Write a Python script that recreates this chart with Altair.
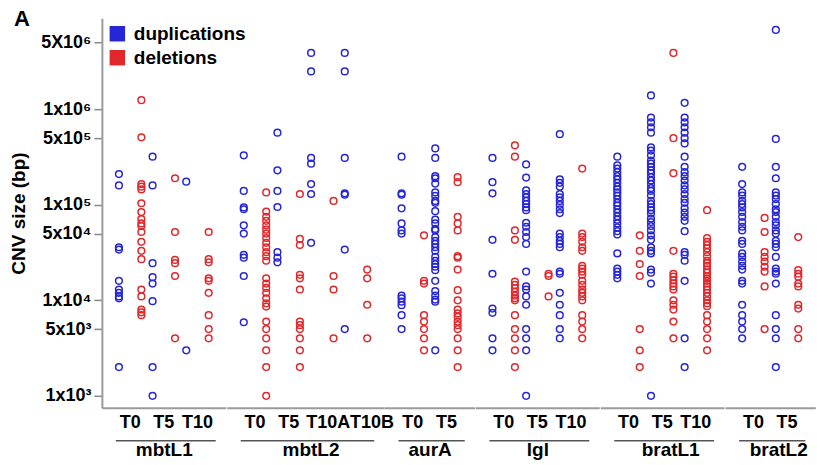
import altair as alt
import pandas as pd

FONT = "Liberation Sans"

genes = ["mbtL1", "mbtL2", "aurA", "lgl", "bratL1", "bratL2"]
timepoints = {
    "mbtL1": ["T0", "T5", "T10"],
    "mbtL2": ["T0", "T5", "T10A", "T10B"],
    "aurA": ["T0", "T5"],
    "lgl": ["T0", "T5", "T10"],
    "bratL1": ["T0", "T5", "T10"],
    "bratL2": ["T0", "T5"],
}
types = ["duplications", "deletions"]
colors = ["#2626d9", "#e2272a"]

# CNV sizes (bp)
mbtL1_T0_dup = [2.1e5, 1.6e5, 3.6e4, 3.4e4, 1.6e4, 1.3e4, 1.2e4, 1.1e4, 1.05e4, 2e3]
mbtL1_T0_del = [1.25e6, 5.1e5, 1.65e5, 1.55e5, 1.45e5, 1.04e5, 8.4e4, 7.1e4, 6.4e4, 6e4,
                5.2e4, 4.1e4, 3.3e4, 2.7e4, 1.3e4, 1.1e4, 8e3, 7.5e3, 7e3]
mbtL1_T5_dup = [3.2e5, 1.6e5, 2.45e4, 1.75e4, 1.5e4, 9.8e3, 2e3, 1e3]
mbtL1_T5_del = [1.9e5, 5.2e4, 2.65e4, 2.45e4, 1.8e4, 4e3]
mbtL1_T10_dup = [1.75e5, 3e3]
mbtL1_T10_del = [5.2e4, 2.7e4, 2.5e4, 1.7e4, 1.6e4, 1.2e4, 7e3, 5e3, 4e3]

mbtL2_T0_dup = [3.3e5, 1.4e5, 9.4e4, 9e4, 6.1e4, 5e4, 3e4, 2.8e4, 1.8e4, 5.9e3]
mbtL2_T0_del = [1.35e5, 8.5e4, 7.5e4, 6.8e4, 6.1e4, 5.5e4, 5e4, 4.5e4, 4e4, 3.6e4, 3.2e4,
                2.9e4, 2.6e4, 1.7e4, 1.5e4, 1.35e4, 1.2e4, 1.05e4, 9.3e3, 8.6e3, 6e3, 5e3,
                4e3, 3e3, 2e3, 1e3]
mbtL2_T5_dup = [5.7e5, 2.3e5, 1.4e5, 9.5e4, 3.2e4, 2.8e4, 2.5e4]
mbtL2_T5_del = [1.3e5, 4.4e4, 3.8e4, 1.85e4, 1.7e4, 1.3e4, 6e3, 5.5e3, 5e3, 4e3, 3e3, 2e3]
mbtL2_T10A_dup = [3.9e6, 2.5e6, 3.1e5, 2.7e5, 1.65e5, 1.3e5, 4e4]
mbtL2_T10A_del = [1.1e5, 1.8e4, 1.3e4, 4e3]
mbtL2_T10B_dup = [3.9e6, 2.5e6, 3.1e5, 1.32e5, 1.28e5, 3.4e4, 5e3]
mbtL2_T10B_del = [2.1e4, 1.7e4, 9e3, 4e3]

aurA_T0_dup = [3.2e5, 1.32e5, 1.28e5, 9.2e4, 6.4e4, 5.4e4, 5e4, 1.12e4, 1.05e4, 9.7e3,
               8.9e3, 7e3, 5e3]
aurA_T0_del = [4.8e4, 1.6e4, 1.5e4, 7e3, 6e3, 5e3, 4e3, 3e3]
aurA_T5_dup = [3.9e5, 3.1e5, 2e5, 1.9e5, 1.67e5, 1.35e5, 1.24e5, 1.1e5, 1.05e5, 8.6e4,
               7e4, 6.4e4, 5.6e4, 5.4e4, 4.6e4, 4.2e4, 3.9e4, 3.6e4, 3.3e4, 2.85e4, 2.6e4,
               2.4e4, 2.25e4, 2.07e4, 1.6e4, 1.25e4, 1.12e4, 1.02e4, 9.7e3, 3e3]
aurA_T5_del = [1.95e5, 1.73e5, 7.5e4, 6.4e4, 5.4e4, 2.9e4, 2.8e4, 2.1e4, 1.28e4, 1e4,
               8e3, 7.3e3, 6.7e3, 6e3, 5.5e3, 5e3, 4e3, 3e3, 2e3]

lgl_T0_dup = [3.1e5, 1.73e5, 1.32e5, 4.3e4, 1.9e4, 8.2e3, 7.4e3, 4e3, 3e3]
lgl_T0_del = [4.2e5, 3.2e5, 5.4e4, 4.3e4, 1.57e4, 1.45e4, 1.34e4, 1.23e4, 1.12e4, 1.05e4,
              1e4, 7e3, 5e3, 4e3, 3e3, 2e3]
lgl_T5_dup = [2.65e5, 1.93e5, 1.42e5, 1.3e5, 1.2e5, 1.1e5, 1.02e5, 9.4e4, 8.8e4, 6.5e4,
              5.9e4, 5.2e4, 4.6e4, 3.9e4, 2e4, 1.4e4, 1.3e4, 1.1e4, 9e3, 5e3, 4e3, 3e3, 1e3]
lgl_T5_del = [1.9e4, 1.8e4, 1.1e4]
lgl_T10_dup = [5.5e5, 1.85e5, 1.7e5, 1.55e5, 1.3e5, 1.2e5, 1.1e5, 1e5, 9e4, 8.2e4, 5e4,
               4.6e4, 4.2e4, 3.9e4, 3.6e4, 2e4, 1.9e4, 1.2e4, 9e3, 7e3, 5e3, 4e3]
lgl_T10_del = [2.4e5, 5e4, 4.6e4, 4.1e4, 3.6e4, 3.3e4, 2.3e4, 2.15e4, 2e4, 1.85e4, 1.6e4,
               1.45e4, 1.3e4, 1.2e4, 1.1e4, 1e4, 7e3, 6e3, 5e3, 4e3]

bratL1_T0_dup = [3.2e5, 2.6e5, 2.4e5, 2.2e5, 2e5, 1.85e5, 1.7e5, 1.55e5, 1.45e5, 1.35e5,
                 1.25e5, 1.15e5, 1.05e5, 9.8e4, 9e4, 8.3e4, 7.6e4, 7e4, 6.4e4, 5.8e4,
                 5.3e4, 4.9e4, 3.1e4, 2.15e4, 2e4, 1.85e4, 1.7e4]
bratL1_T0_del = [4.8e4, 3.3e4, 2.4e4, 1.8e4, 5e3, 3e3, 2e3]
bratL1_T5_dup = [1.4e6, 8.2e5, 7.3e5, 6.5e5, 5.7e5, 4e5, 3.7e5, 3.3e5, 2.9e5, 2.7e5, 2.5e5,
                 2.3e5, 2.15e5, 1.95e5, 1.8e5, 1.65e5, 1.5e5, 1.4e5, 1.25e5, 1.1e5, 1.02e5,
                 9.4e4, 8.8e4, 8.1e4, 7.2e4, 6.6e4, 6e4, 5.4e4, 4.8e4, 4.3e4, 3.6e4, 3.3e4,
                 3.1e4, 2.1e4, 1.95e4, 1.5e4, 1e3]
bratL1_T5_del = [3.9e6, 5e5, 2.15e5, 3.3e4, 1.9e4, 1.77e4, 1.62e4, 1.5e4, 1.4e4, 1.3e4,
                 1e4, 9e3, 8e3, 6e3, 4e3]
bratL1_T10_dup = [1.17e6, 8.2e5, 7.3e5, 6.5e5, 5.7e5, 5e5, 4.4e5, 3.2e5, 2.5e5, 2.2e5,
                  2e5, 1.8e5, 1.6e5, 1.45e5, 1.3e5, 1.15e5, 1.05e5, 9.2e4, 8.3e4, 7.5e4,
                  6.8e4, 5.3e4, 3.2e4, 3e4, 2.6e4, 1.6e4, 4e3, 2e3]
bratL1_T10_del = [8.8e4, 4.5e4, 4.1e4, 3.8e4, 3.5e4, 3.2e4, 2.9e4, 2.6e4, 2.45e4, 2.3e4,
                  2.1e4, 1.95e4, 1.8e4, 1.7e4, 1.6e4, 1.5e4, 1.4e4, 1.3e4, 1.2e4, 1.1e4,
                  1e4, 9.3e3, 8.7e3, 7e3, 6e3, 5e3, 4e3, 3e3]

bratL2_T0_dup = [2.5e5, 1.65e5, 1.35e5, 1.25e5, 1.1e5, 1.02e5, 9.4e4, 8.4e4, 7.5e4, 6.6e4,
                 5.9e4, 5.4e4, 4.2e4, 3.9e4, 3.1e4, 2.85e4, 2.55e4, 2.3e4, 2.1e4, 1.6e4,
                 1.5e4, 9e3, 7e3, 6e3, 5e3, 4e3]
bratL2_T0_del = [7.3e4, 5.2e4, 3.2e4, 2.85e4, 2.55e4, 2.25e4, 2e4, 1.4e4, 5e3]
bratL2_T5_dup = [6.8e6, 4.9e5, 2.5e5, 1.9e5, 1.35e5, 1.25e5, 1.15e5, 1.02e5, 9e4, 8.4e4,
                 7.5e4, 6.6e4, 6.1e4, 5.4e4, 5e4, 4.2e4, 3.9e4, 3.6e4, 2.85e4, 2.15e4, 2e4,
                 1.9e4, 1.5e4, 7e3, 5e3, 4e3, 2e3]
bratL2_T5_del = [4.6e4, 2.07e4, 1.9e4, 1.77e4, 1.5e4, 1.4e4, 9e3, 8.2e3, 5e3, 4e3]

yticks = [1e3, 5e3, 1e4, 5e4, 1e5, 5e5, 1e6, 5e6]
ylabels = ["1x10³", "5x10³", "1x10⁴", "5x10⁴", "1x10⁵", "5x10⁵", "1x10⁶", "5X10⁶"]

series = globals()
rows = []
for g in genes:
    for t in timepoints[g]:
        for ty, suffix in zip(types, ["dup", "del"]):
            for v in series[f"{g}_{t}_{suffix}"]:
                rows.append({"gene": g, "time": t, "type": ty, "size": v})
df = pd.DataFrame(rows)

label_expr = "''"
for v, lab in zip(yticks, ylabels):
    label_expr = f"abs(datum.value - {v}) < {v * 0.01} ? '{lab}' : ({label_expr})"

STEP = 33.7
PO = 0.34
H = 390
title_shift = {"mbtL2": 5, "bratL1": 8, "bratL2": 8}
color_scale = alt.Scale(domain=types, range=colors)

panels = []
for i, g in enumerate(genes):
    tps = timepoints[g]
    w = STEP * (len(tps) + 2 * PO)
    sub = df[df.gene == g]
    first = i == 0
    yaxis = alt.Axis(
        values=yticks, labelExpr=label_expr, title="CNV size (bp)",
        titleFontSize=19, titleFont=FONT, titleFontWeight="bold", titleColor="black",
        titlePadding=12, labelFontSize=18, labelFont=FONT, labelFontWeight="bold",
        labelColor="black", labelPadding=3, tickSize=8, tickWidth=1.5, tickColor="#888888",
        domainColor="#9a9a9a", domainWidth=2, grid=False,
    ) if first else None
    axis_kw = dict(
        title=g, titleFontSize=19, titleFont=FONT, titleFontWeight="bold", titleColor="black",
        titlePadding=9, titleX=w / 2 + title_shift.get(g, 0),
        labelFontSize=18, labelFont=FONT, labelFontWeight="bold", labelColor="black",
        labelAngle=0, labelPadding=6, ticks=False, tickSize=0,
        domainColor="#9a9a9a", domainWidth=2, grid=False,
    )
    if g == "mbtL2":
        axis_kw["labelOffset"] = {
            "condition": [
                {"test": "datum.value == 'T10A'", "value": 6},
                {"test": "datum.value == 'T10B'", "value": 16},
            ],
            "value": 0,
        }
    xaxis = alt.Axis(**axis_kw)
    legend = alt.Legend(
        title=None, orient="top-left", symbolType="square", symbolSize=240,
        symbolStrokeWidth=0, labelFontSize=19, labelFont=FONT, labelFontWeight="bold",
        labelColor="black", labelOffset=7, rowPadding=4, offset=6, padding=0,
    ) if first else None

    enc = dict(
        x=alt.X("time:N", sort=tps,
                scale=alt.Scale(domain=tps, paddingInner=0, paddingOuter=PO), axis=xaxis),
        xOffset=alt.XOffset("type:N", sort=types,
                            scale=alt.Scale(domain=types, paddingInner=0, paddingOuter=0.25)),
        y=alt.Y("size:Q", scale=alt.Scale(type="log", domain=[750, 9e6], nice=False), axis=yaxis),
    )
    # invisible filled squares only carry the filled legend swatches
    key = alt.Chart(sub).mark_square(filled=True, size=0, opacity=1).encode(
        color=alt.Color("type:N", sort=types, scale=color_scale, legend=legend), **enc
    )
    pts = alt.Chart(sub).mark_point(
        shape="circle", filled=False, size=45, strokeWidth=1.5, opacity=1
    ).encode(
        color=alt.Color("type:N", sort=types, scale=color_scale, legend=None), **enc
    )
    line = alt.Chart(pd.DataFrame({"gene": [g]})).mark_rule(
        color="#555555", strokeWidth=1.5
    ).encode(x=alt.value(14), x2=alt.value(w - 10), y=alt.value(H + 33))
    layers = [key, pts, line]
    if first:
        letter = alt.Chart(pd.DataFrame({"t": ["A"]})).mark_text(
            font=FONT, fontSize=22, fontWeight="bold", color="black",
            align="center", baseline="middle"
        ).encode(text="t:N", x=alt.value(-80), y=alt.value(1))
        layers.append(letter)
    panels.append(alt.layer(*layers).properties(width=w, height=H))

chart = alt.hconcat(*panels, spacing=0, bounds="flush").resolve_scale(
    x="independent", xOffset="independent"
).resolve_legend(color="independent").configure(
    font=FONT, background="white", padding={"left": 9, "top": 8, "right": 1, "bottom": 2}
).configure_view(stroke=None)

chart.save("out.html", embed_options={"renderer": "svg", "actions": False})
